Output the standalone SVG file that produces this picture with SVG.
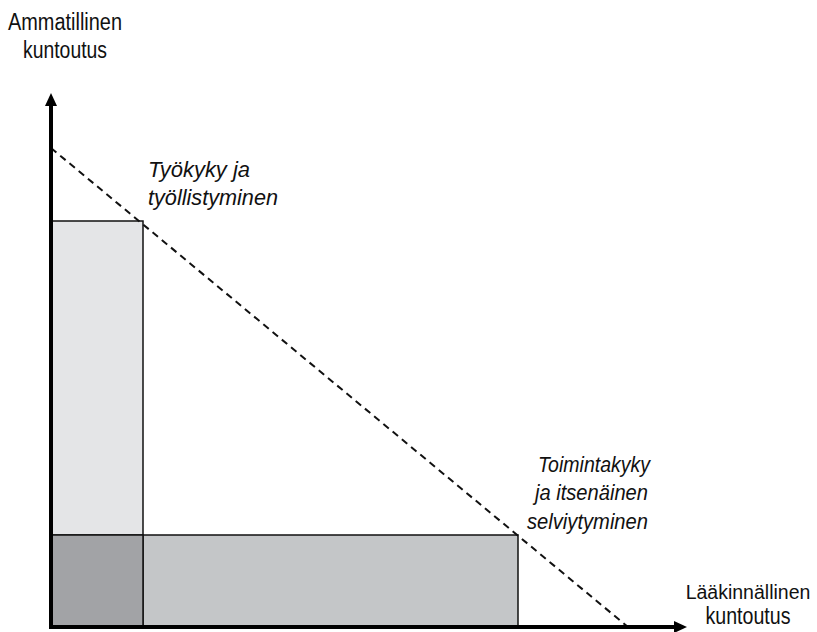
<svg xmlns="http://www.w3.org/2000/svg" width="817" height="632" viewBox="0 0 817 632">
<style>
.lbl{font-family:"Liberation Sans",Arial,sans-serif;font-size:23px;fill:#111}
.it{font-family:"Liberation Sans",Arial,sans-serif;font-size:22px;font-style:italic;fill:#111}
.box{stroke:#111;stroke-width:1.5}
</style>
<rect width="817" height="632" fill="#fff"/>
<g id="box-tyokyky"><rect class="box" x="51" y="221" width="92" height="314" fill="#e4e5e7"/></g>
<g id="box-toimintakyky"><rect class="box" x="143" y="535" width="375" height="92" fill="#c4c6c8"/></g>
<g id="box-overlap"><rect class="box" x="51" y="535" width="92" height="92" fill="#a2a3a6"/></g>
<g id="connectors">
<line x1="51" y1="148" x2="628" y2="627" stroke="#111" stroke-width="2" stroke-dasharray="7,5"/>
<line x1="51" y1="628" x2="51" y2="104" stroke="#000" stroke-width="4"/>
<polygon points="51,93 45,106 57,106" fill="#000"/>
<line x1="49" y1="627" x2="675" y2="627" stroke="#000" stroke-width="4"/>
<polygon points="687,627 674,621 674,633" fill="#000"/>
</g>
<g id="label-y">
<text class="lbl" x="65" y="30" text-anchor="middle" textLength="114" lengthAdjust="spacingAndGlyphs">Ammatillinen</text>
<text class="lbl" x="65" y="58" text-anchor="middle" textLength="84" lengthAdjust="spacingAndGlyphs">kuntoutus</text>
</g>
<g id="label-x">
<text class="lbl" x="748" y="599" text-anchor="middle" style="font-size:19.5px">Lääkinnällinen</text>
<text class="lbl" x="748" y="624" text-anchor="middle" textLength="85" lengthAdjust="spacingAndGlyphs">kuntoutus</text>
</g>
<g id="label-tyokyky">
<text class="it" x="148" y="177" textLength="102" lengthAdjust="spacingAndGlyphs">Työkyky ja</text>
<text class="it" x="148" y="205" textLength="130" lengthAdjust="spacingAndGlyphs">työllistyminen</text>
</g>
<g id="label-toimintakyky">
<text class="it" x="538" y="472" textLength="112" lengthAdjust="spacingAndGlyphs">Toimintakyky</text>
<text class="it" x="535" y="500" textLength="113" lengthAdjust="spacingAndGlyphs">ja itsenäinen</text>
<text class="it" x="527" y="529" textLength="121" lengthAdjust="spacingAndGlyphs">selviytyminen</text>
</g>
</svg>
